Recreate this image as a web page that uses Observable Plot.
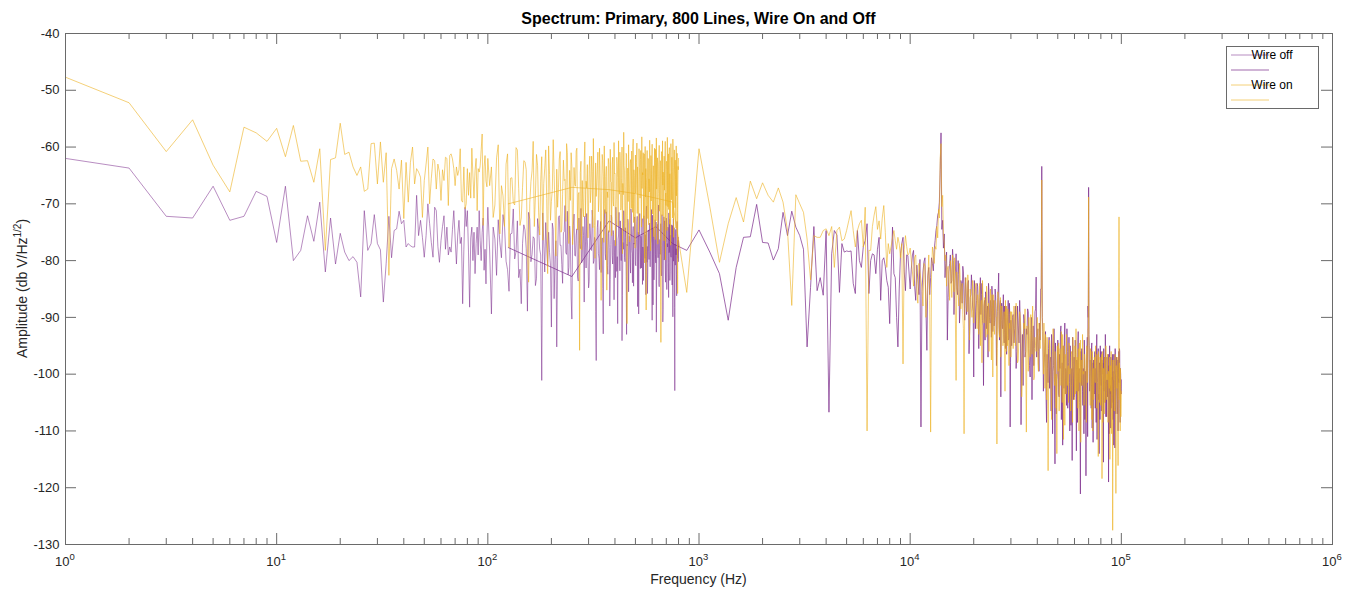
<!DOCTYPE html>
<html><head><meta charset="utf-8">
<script src="https://cdn.jsdelivr.net/npm/d3@7"></script>
<script src="https://cdn.jsdelivr.net/npm/@observablehq/plot@0.6"></script>
<style>
html,body{margin:0;padding:0;background:#fff;}
#chart{width:1360px;height:591px;}
</style></head><body><div id="chart"></div>
<script>
// ---------------- DATA ----------------
// Frequency grids (Hz): 800-line span to 800 Hz, and 800-line span to 100 kHz
const freqLow = [...d3.range(1, 101), ...d3.range(104, 801, 4)];
const freqLowMid = d3.range(102, 799, 4);
const freqHighA = d3.range(125, 10001, 125);
const freqHighB = d3.range(10250, 30001, 250);
const freqHighB2 = d3.range(10125, 30000, 250);
const freqHighC = d3.range(30500, 100001, 500);
const freqHighC2 = d3.range(30250, 100000, 500);

// Wire off, 800 Hz span (dB V/Hz^1/2)
const wireOffLow = [
-62.0,-63.7,-72.2,-72.5,-66.9,-72.9,-72.2,-67.8,-68.7,-76.8,
-66.9,-80.0,-78.2,-72.1,-76.6,-69.7,-82.0,-72.5,-80.6,-75.2,
-78.5,-80.0,-79.3,-80.3,-86.4,-71.2,-78.2,-77.0,-71.9,-77.0,
-78.1,-87.3,-80.5,-72.2,-79.5,-74.7,-74.4,-71.3,-73.5,-72.9,
-77.6,-77.0,-77.4,-77.6,-77.6,-68.5,-75.6,-72.9,-75.9,-79.4,
-75.6,-70.0,-73.5,-76.8,-79.4,-70.6,-71.2,-77.5,-80.3,-76.5,
-74.0,-72.1,-78.0,-74.1,-79.0,-77.6,-78.5,-74.5,-71.2,-76.0,
-80.6,-75.5,-72.9,-77.0,-75.9,-87.6,-78.0,-70.6,-74.0,-71.2,
-78.5,-88.2,-76.0,-74.1,-80.0,-75.0,-82.3,-77.0,-74.1,-79.0,
-71.2,-76.5,-80.0,-75.0,-72.5,-81.7,-78.0,-84.1,-76.0,-70.6,
-89.4,-76.2,-72.8,-79.5,-74.0,-81.6,-75.3,-70.9,-78.4,-83.0,
-87.6,-73.7,-77.9,-71.5,-80.2,-75.8,-84.4,-72.6,-78.0,-101.1,
-76.9,-73.3,-81.0,-78.6,-91.7,-74.5,-79.8,-95.2,-72.4,-77.3,
-80.7,-75.1,-70.3,-78.9,-82.5,-73.9,-86.4,-76.6,-71.8,-79.2,
-74.4,-83.6,-77.0,-70.8,-79.9,-75.6,-72.2,-81.3,-76.3,-84.8,
-73.5,-78.1,-71.1,-80.5,-75.9,-89.0,-77.4,-72.9,-79.6,-74.8,
-82.1,-76.0,-92.9,-73.2,-78.8,-71.4,-80.9,-75.2,-77.7,-83.3,
-72.0,-79.1,-74.7,-86.9,-76.4,-70.6,-81.9,-91.1,-75.5,-78.3,
-73.0,-80.0,-94.1,-76.8,-71.2,-79.4,-74.2,-82.8,-77.1,-72.7,
-85.5,-75.7,-79.7,-70.9,-78.2,-83.9,-74.0,-76.9,-72.3,-80.6,
-77.8,-73.1,-88.1,-75.0,-79.0,-71.7,-81.4,-76.1,-73.8,-84.2,
-78.5,-72.1,-79.3,-75.4,-86.0,-70.4,-77.5,-82.0,-74.6,-79.8,
-73.4,-81.1,-76.5,-71.0,-90.5,-78.0,-74.3,-83.4,-75.8,-72.8,
-80.4,-92.6,-77.2,-73.6,-79.5,-70.2,-84.6,-76.3,-78.9,-74.9,
-82.7,-71.9,-77.6,-88.6,-75.1,-79.9,-73.0,-81.5,-76.7,-72.5,
-85.1,-77.0,-74.1,-80.3,-71.6,-78.4,-83.5,-75.6,-79.2,-73.7,
-81.8,-76.2,-89.9,-72.6,-78.7,-75.3,-102.9,-80.8,-74.5,-77.9,
-86.2,-73.1,-79.6,-76.4,-75.9
];
const wireOffLowMid = [
-78.3,-74.1,-82.6,-76.8,-71.9,-80.1,-85.4,-75.2,-79.7,-73.0,
-81.5,-77.0,-74.6,-88.9,-72.7,-78.9,-76.1,-83.2,-74.4,-79.0,
-71.6,-82.0,-77.8,-75.0,-80.8,-73.4,-86.7,-76.5,-79.4,-72.1,
-77.3,-84.0,-74.9,-78.6,-71.3,-81.2,-76.0,-90.3,-73.8,-79.1,
-75.5,-82.9,-72.5,-77.9,-80.4,-74.0,-87.3,-76.7,-71.7,-79.5,
-83.7,-75.3,-78.2,-72.8,-80.0,-76.4,-97.6,-74.2,-78.8,-81.6,
-73.1,-77.5,-84.9,-75.8,-71.0,-79.9,-76.9,-82.4,-74.7,-88.0,
-77.2,-72.4,-80.6,-75.4,-78.5,-83.0,-73.6,-79.3,-76.2,-71.5,
-81.8,-77.7,-74.3,-86.1,-78.0,-72.9,-80.2,-75.9,-93.0,-77.4,
-73.3,-79.8,-76.6,-82.2,-71.8,-78.7,-75.1,-84.5,-77.1,-73.9,
-80.9,-76.3,-72.2,-79.2,-89.4,-74.8,-78.1,-75.7,-81.3,-72.6,
-77.6,-83.5,-74.5,-79.6,-76.8,-71.4,-80.3,-85.8,-75.0,-78.4,
-73.7,-81.0,-77.0,-74.1,-79.9,-72.0,-87.8,-76.1,-80.7,-74.6,
-78.9,-73.2,-82.7,-75.6,-77.8,-71.2,-84.1,-79.0,-76.4,-73.5,
-81.4,-77.3,-74.9,-90.8,-78.3,-72.3,-79.7,-75.2,-83.8,-76.7,
-73.0,-80.5,-77.6,-74.4,-86.5,-78.6,-72.7,-81.9,-75.5,-79.4,
-76.0,-84.3,-73.8,-78.0,-80.1,-74.2,-88.3,-77.1,-75.8,-79.0,
-82.5,-74.7,-78.8,-76.9,-80.2
];

// Wire on, 800 Hz span
const wireOnLow = [
-47.7,-52.2,-60.8,-55.2,-63.2,-67.9,-56.5,-57.5,-59.0,-56.7,
-61.7,-56.2,-62.5,-62.4,-66.2,-60.3,-78.2,-62.2,-61.9,-55.8,
-61.3,-60.9,-63.5,-65.0,-63.5,-67.8,-67.4,-59.4,-59.3,-66.5,
-59.1,-66.2,-61.0,-82.6,-63.8,-62.1,-64.1,-67.4,-62.3,-72.6,
-62.7,-69.7,-62.7,-60.0,-66.5,-63.8,-64.4,-65.3,-72.4,-65.9,
-63.0,-60.0,-70.0,-65.5,-62.1,-62.4,-67.4,-63.0,-64.4,-69.4,
-64.0,-65.9,-61.8,-62.0,-70.3,-61.5,-61.2,-62.1,-63.8,-66.8,
-63.5,-65.0,-64.0,-60.3,-69.4,-69.7,-63.5,-70.9,-70.0,-63.8,
-68.5,-64.5,-69.0,-60.2,-65.1,-69.0,-64.1,-62.0,-71.2,-63.8,
-64.4,-63.3,-60.5,-57.7,-73.8,-63.5,-61.5,-66.0,-67.0,-62.0,
-63.5,-70.2,-59.6,-66.8,-74.0,-61.2,-65.5,-69.8,-60.1,-67.3,
-72.5,-62.4,-64.0,-83.8,-66.1,-59.0,-68.7,-63.2,-75.5,-61.7,
-66.4,-60.5,-82.3,-64.8,-69.6,-58.7,-71.0,-63.9,-67.2,-60.8,
-74.6,-62.3,-65.7,-59.4,-70.8,-64.1,-61.0,-77.2,-63.6,-66.9,
-60.2,-68.4,-95.8,-62.5,-65.9,-72.3,-59.1,-66.0,-63.1,-70.4,
-61.6,-67.7,-64.3,-58.5,-73.8,-62.8,-66.5,-60.9,-69.1,-64.7,
-87.0,-61.3,-65.2,-59.8,-71.7,-63.4,-67.9,-62.0,-75.0,-60.4,
-66.2,-63.0,-69.5,-59.2,-64.6,-72.1,-61.8,-65.4,-58.9,-68.3,
-62.6,-70.7,-60.0,-66.4,-57.4,-64.2,-73.4,-61.1,-91.1,-63.7,
-59.6,-67.4,-62.9,-65.8,-60.7,-71.5,-58.6,-64.0,-68.8,-61.4,
-66.7,-59.3,-63.5,-74.9,-60.3,-65.1,-62.2,-69.9,-58.2,-64.5,
-61.0,-67.0,-80.4,-59.9,-63.8,-66.3,-60.6,-72.6,-62.1,-65.6,
-58.8,-68.0,-61.5,-64.9,-59.5,-70.1,-63.3,-66.6,-60.2,-76.3,
-62.7,-58.4,-65.3,-61.9,-69.3,-63.0,-59.7,-67.5,-62.4,-94.4,
-60.8,-66.1,-58.9,-64.4,-71.2,-61.6,-65.0,-59.0,-68.1,-62.9,
-63.9,-58.3,-70.5,-61.2,-66.8,-60.1,-64.7,-74.3,-59.4,-65.7,
-61.8,-67.9,-58.6,-63.6,-69.7,-60.5,-65.2,-62.3,-72.8,-59.8,
-66.3,-61.1,-85.8,-63.4,-62.0
];
const wireOnLowMid = [
-66.8,-72.4,-61.9,-75.3,-68.6,-63.0,-77.7,-65.4,-70.2,-60.5,
-73.8,-67.1,-62.6,-78.5,-69.9,-64.2,-74.0,-61.3,-71.6,-66.0,
-76.4,-63.7,-69.1,-59.8,-72.9,-67.5,-64.8,-79.2,-70.6,-62.1,
-75.0,-68.3,-65.9,-73.1,-61.0,-77.0,-69.4,-63.4,-71.9,-66.6,
-60.7,-74.6,-68.0,-64.5,-78.1,-70.9,-62.8,-72.3,-67.2,-76.0,
-63.9,-69.8,-61.6,-74.2,-66.3,-79.6,-68.7,-64.0,-71.4,-60.2,
-73.5,-67.8,-62.4,-76.8,-70.0,-65.2,-85.2,-68.9,-63.1,-72.7,
-66.1,-75.6,-61.8,-70.4,-64.7,-77.4,-69.2,-62.9,-73.9,-67.0,
-60.9,-71.1,-65.6,-78.8,-68.4,-63.3,-74.8,-66.9,-61.4,-72.0,
-69.6,-64.4,-76.7,-62.2,-70.8,-67.7,-59.9,-73.3,-65.0,-77.8,
-68.1,-62.7,-71.7,-66.4,-75.4,-63.6,-69.0,-60.6,-74.1,-67.3,
-64.9,-72.6,-61.2,-76.2,-68.8,-88.7,-65.3,-70.1,-62.0,-73.7,
-67.9,-63.8,-78.3,-69.5,-61.7,-71.8,-66.2,-75.8,-64.1,-70.5,
-60.4,-73.0,-67.4,-63.5,-77.1,-68.2,-62.3,-71.3,-65.8,-74.4,
-69.7,-61.1,-72.1,-66.7,-64.6,-76.5,-67.6,-63.2,-79.9,-70.3,
-62.5,-74.7,-68.5,-65.1,-71.0,-60.8,-73.6,-66.5,-77.3,-63.0,
-69.3,-64.3,-72.5,-61.5,-75.9,-67.0,-63.9,-70.7,-65.7,-74.3,
-68.6,-62.1,-71.5,-66.8,-64.0
];

// Wire off, 100 kHz span
const wireOffHighA = [
-77.7,-82.8,-73.0,-76.0,-74.0,-77.0,-78.2,-74.6,
-78.5,-82.3,-90.5,-81.2,-75.9,-75.8,-70.1,-76.8,
-76.9,-79.9,-77.9,-71.5,-75.6,-71.3,-74.1,-75.6,
-78.0,-95.2,-84.7,-74.0,-85.3,-83.0,-86.1,-74.7,
-106.7,-78.8,-74.7,-75.5,-85.6,-77.0,-78.5,-78.3,
-78.4,-78.3,-84.0,-85.8,-74.7,-80.0,-81.2,-77.5,
-76.5,-73.5,-85.8,-80.0,-78.8,-79.0,-82.3,-78.0,
-75.9,-87.0,-80.0,-79.5,-81.0,-83.5,-84.7,-91.1,
-82.0,-74.1,-82.3,-83.0,-90.0,-95.2,-85.0,-78.8,
-77.0,-75.9,-82.0,-85.3,-79.0,-79.1,-82.0,-85.0
];
const wireOffHighB = [
-79.0,-84.5,-80.8,-86.0,-109.3,-82.0,-79.5,-95.8,-81.2,-83.0,
-80.5,-78.0,-74.7,-72.0,-69.7,-57.5,-72.9,-75.3,-80.5,-94.0,
-82.0,-79.0,-83.5,-80.0,-85.5,-78.8,-86.0,-82.5,-88.0,-84.0,
-81.0,-87.0,-83.0,-89.5,-84.0,-96.4,-86.5,-82.5,-88.0,-100.5,
-85.0,-89.0,-84.0,-87.5,-91.0,-83.0,-86.0,-90.5,-102.0,-87.0,
-85.5,-92.0,-88.0,-84.0,-90.0,-87.0,-93.5,-86.0,-89.0,-91.5,
-85.0,-88.5,-92.5,-86.5,-82.2,-94.0,-87.0,-90.5,-91.0,-89.0,
-93.0,-88.0,-95.5,-90.0,-92.0,-89.5,-94.0,-87.5,-109.3,-90.5
];
const wireOffHighB2 = [
-81.5,-78.2,-87.0,-83.4,-79.8,-85.5,-80.2,-88.5,-82.7,-86.0,
-79.5,-81.8,-76.5,-73.8,-71.5,-64.0,-74.5,-77.8,-83.0,-78.5,
-86.5,-80.5,-84.0,-78.0,-89.5,-82.0,-85.0,-80.0,-91.0,-83.5,
-87.5,-82.0,-90.5,-85.0,-88.0,-83.5,-92.5,-86.0,-84.5,-89.0,
-83.5,-92.0,-87.0,-84.5,-95.5,-86.5,-89.5,-84.0,-91.5,-88.0,
-94.0,-86.0,-89.5,-97.0,-85.5,-91.0,-88.5,-84.5,-92.5,-87.0,
-90.5,-86.0,-98.5,-89.0,-85.0,-91.5,-88.0,-104.0,-87.5,-92.0,
-86.0,-94.5,-90.0,-88.0,-96.5,-91.0,-87.0,-93.5,-89.5,-98.0
];
const wireOffHighC = [
-90.0,-94.5,-88.0,-96.0,-91.5,-87.0,-108.9,-93.0,-89.5,-97.0,
-92.0,-88.5,-95.5,-100.5,-90.0,-94.0,-98.5,-89.0,-82.9,-93.5,
-96.0,-91.0,-85.0,-63.4,-92.5,-99.0,-94.5,-104.0,-96.5,-101.5,
-93.5,-98.0,-106.5,-95.0,-99.5,-92.0,-115.8,-97.5,-101.0,-94.0,
-103.5,-96.5,-92.5,-108.0,-98.0,-95.0,-102.5,-91.0,-99.0,-105.5,
-96.0,-100.5,-93.5,-110.0,-97.0,-102.0,-115.2,-95.5,-99.5,-104.0,
-94.0,-101.5,-97.5,-108.5,-92.5,-100.0,-105.0,-121.1,-98.0,-95.5,
-103.0,-99.0,-110.5,-96.5,-101.0,-117.9,-97.0,-93.5,-88.0,-67.1,
-95.0,-101.0,-98.0,-106.0,-94.5,-100.5,-112.0,-97.5,-103.5,-96.0,
-99.0,-108.5,-93.0,-101.5,-97.0,-104.5,-114.0,-98.5,-95.0,-102.0,
-106.5,-97.5,-100.0,-110.0,-95.5,-103.0,-99.0,-93.0,-107.5,-101.0,
-97.0,-104.0,-100.5,-119.0,-98.5,-95.0,-103.5,-109.5,-97.5,-101.5,
-105.0,-96.5,-99.5,-112.5,-98.0,-102.5,-95.5,-107.0,-100.0,-97.0,
-104.0,-99.0,-110.0,-96.0,-101.5,-95.5,-106.0,-99.0,-102.5,-101.0
];
const wireOffHighC2 = [
-95.0,-89.5,-92.0,-99.0,-88.0,-94.5,-91.0,-97.5,-102.0,-90.5,
-96.0,-93.0,-89.0,-98.5,-94.0,-104.5,-91.5,-95.5,-88.5,-97.0,
-92.0,-99.5,-94.0,-85.0,-90.0,-103.0,-97.0,-92.5,-108.5,-99.0,
-95.5,-102.5,-97.0,-93.0,-110.5,-98.5,-101.5,-94.5,-107.0,-100.0,
-96.0,-104.0,-99.0,-91.5,-101.0,-112.5,-97.5,-94.0,-103.5,-99.5,
-92.0,-106.0,-98.0,-101.5,-95.0,-109.0,-99.0,-93.5,-104.5,-97.0,
-101.0,-96.5,-113.5,-98.5,-94.5,-103.0,-99.0,-107.5,-96.0,-102.0,
-97.0,-105.5,-100.0,-94.0,-108.0,-99.5,-102.5,-96.0,-111.0,-90.0,
-93.0,-103.0,-97.5,-100.5,-95.0,-109.5,-98.0,-104.0,-101.0,-96.5,
-106.0,-99.5,-97.0,-111.5,-100.5,-95.5,-103.5,-98.0,-108.0,-101.0,
-96.0,-104.5,-100.0,-98.0,-115.5,-101.5,-97.0,-105.0,-99.0,-102.5,
-107.5,-98.5,-101.0,-96.5,-104.0,-110.5,-99.5,-102.0,-97.0,-106.0,
-100.5,-98.0,-108.0,-103.0,-96.5,-101.0,-113.0,-99.0,-104.5,-98.5,
-102.0,-107.0,-97.5,-104.0,-99.5,-101.5,-96.0,-108.5,-100.0,-103.5
];

// Wire on, 100 kHz span
const wireOnHighA = [
-70.0,-67.1,-67.5,-68.2,-69.0,-69.7,-85.6,-60.3,
-70.5,-80.3,-73.5,-68.9,-73.2,-66.0,-69.1,-66.3,
-68.5,-69.7,-67.2,-69.7,-74.7,-87.9,-68.4,-70.0,
-71.5,-76.2,-83.4,-75.6,-75.9,-75.9,-74.7,-74.4,
-75.6,-74.0,-81.2,-74.7,-74.1,-76.5,-76.2,-74.7,
-72.9,-71.2,-74.7,-77.6,-74.7,-73.5,-72.9,-77.6,
-70.6,-110.0,-78.2,-78.2,-74.0,-72.0,-70.5,-74.5,
-73.0,-76.2,-72.5,-70.3,-75.0,-81.2,-77.0,-78.8,
-77.5,-76.0,-74.7,-76.5,-78.0,-75.9,-77.0,-79.5,
-77.0,-98.2,-78.0,-75.6,-77.5,-79.0,-78.8,-77.8
];
const wireOnHighB = [
-82.0,-79.5,-85.0,-80.5,-83.5,-88.0,-81.0,-86.5,-79.0,-110.2,
-77.6,-80.5,-78.0,-76.0,-72.5,-59.4,-68.5,-77.0,-79.0,-81.5,
-84.0,-80.0,-86.5,-82.0,-79.5,-101.1,-84.5,-88.0,-83.0,-86.0,
-89.5,-110.5,-84.0,-87.0,-82.5,-90.0,-85.0,-88.5,-83.5,-91.0,
-86.0,-84.0,-92.0,-88.0,-85.5,-95.0,-87.0,-83.5,-90.0,-86.5,
-89.0,-84.5,-93.0,-87.5,-90.5,-85.0,-97.5,-88.0,-86.0,-92.0,
-87.0,-90.0,-112.3,-85.5,-89.0,-93.5,-86.5,-91.5,-88.0,-95.0,
-89.5,-92.5,-87.0,-96.0,-90.0,-88.5,-94.5,-91.0,-89.0,-97.0
];
const wireOnHighB2 = [
-80.0,-84.5,-79.0,-87.5,-82.0,-85.0,-80.5,-90.0,-83.0,-87.0,
-82.5,-79.0,-77.5,-74.0,-71.0,-62.0,-70.5,-75.5,-80.0,-84.5,
-81.0,-87.0,-83.0,-79.0,-85.5,-90.5,-82.0,-86.0,-80.5,-88.5,
-84.0,-92.0,-86.5,-83.0,-89.0,-85.5,-94.0,-87.0,-90.0,-84.5,
-88.5,-85.0,-90.5,-86.0,-93.0,-84.0,-88.0,-98.0,-86.5,-91.0,
-87.0,-93.5,-85.5,-89.0,-96.0,-88.5,-91.0,-86.0,-100.5,-89.5,
-93.0,-87.5,-90.0,-95.5,-86.0,-92.5,-89.0,-97.0,-88.0,-91.5,
-94.0,-89.0,-103.0,-92.0,-88.0,-95.0,-90.5,-98.5,-92.0,-89.0
];
const wireOnHighC = [
-92.0,-88.0,-95.0,-90.5,-97.5,-89.0,-93.0,-100.0,-91.0,-88.5,
-110.2,-94.0,-90.0,-97.0,-92.5,-88.0,-101.0,-93.5,-96.0,-90.0,
-99.5,-93.0,-89.0,-65.8,-95.5,-91.0,-102.5,-97.0,-93.5,-117.0,
-99.0,-95.0,-103.0,-97.5,-92.0,-100.5,-96.0,-106.0,-114.0,-98.0,
-94.5,-101.0,-97.0,-92.5,-105.0,-99.5,-95.0,-109.0,-97.5,-93.0,
-102.0,-98.5,-94.5,-100.0,-106.5,-96.0,-101.0,-93.5,-99.0,-104.5,
-97.0,-92.0,-103.0,-99.0,-95.5,-110.0,-98.0,-94.0,-101.5,-97.5,
-93.0,-100.0,-105.5,-96.5,-99.0,-103.0,-95.0,-101.5,-92.0,-68.8,
-97.0,-103.5,-95.5,-100.0,-108.0,-96.5,-99.0,-104.5,-97.0,-101.0,
-95.0,-100.5,-106.0,-98.0,-102.0,-96.0,-99.5,-105.0,-97.5,-101.0,
-98.5,-118.4,-96.0,-102.5,-99.0,-107.0,-97.0,-101.5,-95.0,-103.0,
-100.0,-96.5,-108.5,-99.5,-102.0,-97.0,-104.0,-100.0,-96.0,-110.5,
-99.0,-127.5,-101.0,-97.5,-104.5,-100.0,-96.5,-106.0,-98.5,-102.0,
-97.0,-105.0,-116.1,-100.5,-72.3,-98.0,-103.5,-99.0,-107.5,-103.0
];
const wireOnHighC2 = [
-89.0,-95.5,-91.0,-87.5,-98.0,-93.0,-90.0,-104.0,-94.5,-92.0,
-97.0,-91.5,-99.5,-94.0,-89.5,-96.5,-92.0,-100.5,-95.0,-93.0,
-98.0,-91.0,-95.5,-87.0,-92.0,-100.0,-96.0,-93.0,-104.5,-98.0,
-101.5,-94.0,-99.0,-108.0,-96.0,-93.5,-102.0,-97.5,-100.0,-95.0,
-99.5,-106.5,-95.5,-102.0,-98.0,-93.0,-111.5,-100.0,-96.5,-103.5,
-97.0,-100.5,-105.0,-95.0,-99.0,-102.5,-96.5,-108.5,-98.0,-101.0,
-95.0,-103.5,-99.0,-97.0,-106.0,-100.0,-94.5,-101.5,-112.0,-98.5,
-102.0,-96.0,-99.5,-104.0,-97.5,-100.5,-108.5,-95.5,-101.0,-92.0,
-94.0,-100.0,-105.5,-98.5,-102.0,-96.0,-110.0,-99.0,-103.0,-97.5,
-101.5,-98.0,-104.0,-96.5,-100.0,-114.5,-98.5,-102.5,-97.0,-105.5,
-100.0,-96.5,-103.0,-108.5,-99.0,-101.5,-97.5,-105.0,-100.5,-98.0,
-104.5,-101.0,-97.0,-106.0,-99.5,-102.5,-115.0,-98.5,-103.0,-100.0,
-97.5,-104.0,-109.5,-101.0,-98.0,-106.5,-100.0,-103.5,-121.0,-99.5,
-102.5,-98.0,-106.0,-101.0,-96.0,-104.5,-99.5,-110.0,-102.0,-105.0
];

const xDecades = [1, 10, 100, 1000, 10000, 100000, 1000000];
const yTickValues = [-130, -120, -110, -100, -90, -80, -70, -60, -50, -40];
const seriesNames = ["Wire off", "", "Wire on", ""];
const titleText = "Spectrum: Primary, 800 Lines, Wire On and Off";
const xLabelText = "Frequency (Hz)";

// ---------------- CHART ----------------
const W = 1360, H = 591, mL = 65, mR = 28, mT = 33, mB = 47;
const innerW = W - mL - mR, innerH = H - mT - mB;
const purple = "#7E2F8E", orange = "#EDB120", axisColor = "#6a6a6a", textColor = "#262626";
const font = "'Liberation Sans', Arial, Helvetica, sans-serif";
const minorTicks = xDecades.slice(0, -1).flatMap(d => [2,3,4,5,6,7,8,9].map(k => d * k));

const rows = (fs, vs) => fs.slice(0, vs.length).map((f, i) => ({f, v: vs[i]}));
const merge = (...pairs) => pairs.flatMap(([fs, vs]) => rows(fs, vs)).sort((a, b) => a.f - b.f);

const offLowRows = merge([freqLow, wireOffLow], [freqLowMid, wireOffLowMid]);
const onLowRows = merge([freqLow, wireOnLow], [freqLowMid, wireOnLowMid]);
const offHighRows = merge([freqHighA, wireOffHighA], [freqHighB, wireOffHighB], [freqHighB2, wireOffHighB2],
                          [freqHighC, wireOffHighC], [freqHighC2, wireOffHighC2]);
const onHighRows = merge([freqHighA, wireOnHighA], [freqHighB, wireOnHighB], [freqHighB2, wireOnHighB2],
                         [freqHighC, wireOnHighC], [freqHighC2, wireOnHighC2]);

const styles = [
  {stroke: purple, strokeOpacity: 0.55},
  {stroke: purple, strokeOpacity: 0.72},
  {stroke: orange, strokeOpacity: 0.6},
  {stroke: orange, strokeOpacity: 0.6}
];

const plot = Plot.plot({
  width: W, height: H,
  marginLeft: mL, marginRight: mR, marginTop: mT, marginBottom: mB,
  x: {type: "log", domain: [1, 1e6], axis: null},
  y: {domain: [-130, -40], axis: null},
  style: {fontFamily: font, fontSize: "13px", color: textColor, background: "#fff", overflow: "visible"},
  marks: [
    Plot.line(offLowRows, {x: "f", y: "v", strokeWidth: 1, ...styles[0]}),
    Plot.line(offHighRows, {x: "f", y: "v", strokeWidth: 1, ...styles[1]}),
    Plot.line(onLowRows, {x: "f", y: "v", strokeWidth: 1, ...styles[2]}),
    Plot.line(onHighRows, {x: "f", y: "v", strokeWidth: 1, ...styles[3]}),
    Plot.frame({stroke: axisColor, strokeWidth: 1}),
    Plot.ruleX(xDecades, {x: d => d, insetTop: innerH - 11, stroke: axisColor}),
    Plot.ruleX(xDecades, {x: d => d, insetBottom: innerH - 11, stroke: axisColor}),
    Plot.ruleX(minorTicks, {x: d => d, insetTop: innerH - 6, stroke: axisColor}),
    Plot.ruleX(minorTicks, {x: d => d, insetBottom: innerH - 6, stroke: axisColor}),
    Plot.ruleY(yTickValues, {y: d => d, insetRight: innerW - 11, stroke: axisColor}),
    Plot.ruleY(yTickValues, {y: d => d, insetLeft: innerW - 11, stroke: axisColor}),
    Plot.text(yTickValues, {x: 1, y: d => d, text: d => String(d), textAnchor: "end", dx: -6, fill: textColor, fontSize: 13})
  ]
});
document.getElementById("chart").appendChild(plot);

// ---------- decorations: tick labels with exponents, titles, legend ----------
const svg = d3.select(plot);
const xs = plot.scale("x");
const gx = svg.append("g").attr("fill", textColor).attr("font-family", font).attr("font-size", 13).attr("text-anchor", "middle");
xDecades.forEach(d => {
  const t = gx.append("text").attr("x", xs.apply(d)).attr("y", 566);
  t.append("tspan").text("10");
  t.append("tspan").attr("dy", -6).attr("font-size", 9.5).text(String(Math.round(Math.log10(d))));
});
svg.append("text").attr("x", mL + innerW / 2).attr("y", 584).attr("text-anchor", "middle")
  .attr("font-family", font).attr("font-size", 14).attr("fill", textColor).text(xLabelText);
svg.append("text").attr("x", mL + innerW / 2).attr("y", 24).attr("text-anchor", "middle")
  .attr("font-family", font).attr("font-size", 16).attr("font-weight", "bold").attr("fill", "#000").text(titleText);
const yl = svg.append("text").attr("transform", `translate(27,${mT + innerH / 2}) rotate(-90)`).attr("text-anchor", "middle")
  .attr("font-family", font).attr("font-size", 14).attr("fill", textColor);
yl.append("tspan").text("Amplitude (db V/Hz");
yl.append("tspan").attr("dy", -6).attr("font-size", 10).text("1/2");
yl.append("tspan").attr("dy", 6).text(")");

// legend
const lg = svg.append("g").attr("font-family", font).attr("font-size", 12).attr("fill", "#000");
lg.append("rect").attr("x", 1226.5).attr("y", 46.5).attr("width", 92).attr("height", 62)
  .attr("fill", "#fff").attr("stroke", axisColor);
seriesNames.forEach((name, i) => {
  const yy = 55 + i * 15;
  lg.append("line").attr("x1", 1231).attr("x2", 1269).attr("y1", yy).attr("y2", yy)
    .attr("stroke", styles[i].stroke).attr("stroke-opacity", styles[i].strokeOpacity);
  if (name) lg.append("text").attr("x", 1272).attr("y", yy).attr("dy", "0.35em").text(name);
});
</script></body></html>
